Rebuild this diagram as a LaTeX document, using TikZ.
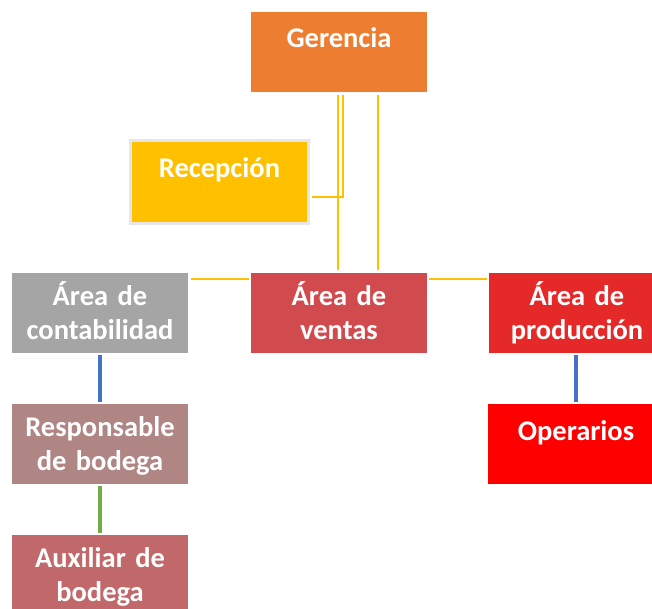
\documentclass[tikz,border=0pt]{standalone}
\usepackage{fontspec}
\setmainfont{Carlito}
\usetikzlibrary{calc}
\definecolor{gerorange}{HTML}{ED7D31}
\definecolor{recyellow}{HTML}{FFC000}
\definecolor{recborder}{HTML}{E6E6E6}
\definecolor{contgray}{HTML}{A5A5A5}
\definecolor{ventred}{HTML}{D14A4E}
\definecolor{prodred}{HTML}{E52828}
\definecolor{respbrown}{HTML}{B08685}
\definecolor{auxrose}{HTML}{C0686A}
\definecolor{operred}{HTML}{FF0000}
\definecolor{linkblue}{HTML}{4472C4}
\definecolor{linkgreen}{HTML}{70AD47}
\tikzset{
  every picture/.style={
    x=1pt, y=-1pt
  },
  box/.style={
    rectangle, fill=#1, text=white,
    font=\bfseries\fontsize{28.5}{34}\selectfont,
    minimum width=176pt, minimum height=80pt,
    text width=176pt, align=center, inner sep=0pt,
    text height=32pt, text depth=48pt
  },
  single/.style={
    text height=36pt, text depth=44pt
  },
  yline/.style={
    draw=recyellow, line width=2.3pt
  },
  vline/.style={
    draw=#1, line width=3.5pt,
    shorten <=2pt, shorten >=2pt
  }
}

\begin{document}
\begin{tikzpicture}
  \useasboundingbox (0,0) rectangle (652,609);
  \clip (0,0) rectangle (652,609);
  % boxes
  \node [box=gerorange, single] (ger) at (339,52) {Gerencia};
  \node [box=recyellow, single, draw=recborder, line width=3pt,
         minimum width=178pt, minimum height=83pt,
         text width=175pt] (rec) at (219.5,182) {Recepción};
  \node [box=contgray] (cont) at (100,313) {Área de\\contabilidad};
  \node [box=ventred] (vent) at (339,313) {Área de\\ventas};
  \node [box=prodred] (prod) at (577,313) {Área de\\producción};
  \node [box=respbrown] (resp) at (100,444) {Responsable\\de bodega};
  \node [box=auxrose] (aux) at (100,575) {Auxiliar de\\bodega};
  \node [box=operred, single] (oper) at (576,444) {Operarios};
  % yellow links
  \draw [yline, shorten <=3pt, shorten >=3pt]
    ([xshift=-1pt]ger.south) -- ([xshift=-1pt]vent.north);
  \draw [yline, shorten <=3pt, shorten >=3pt]
    ([xshift=39pt]ger.south) -- ([xshift=39pt]vent.north);
  \draw [yline, shorten <=3pt, shorten >=1.5pt]
    ([xshift=4pt]ger.south) |- ([yshift=-15pt]rec.east);
  \draw [yline, shorten <=3pt, shorten >=2pt]
    ([yshift=34pt]cont.east) -- ([yshift=34pt]vent.west);
  \draw [yline, shorten <=2pt, shorten >=2pt]
    ([yshift=34pt]vent.east) -- ([yshift=34pt]prod.west);
  % lower links
  \draw [vline=linkblue] (cont) -- (resp);
  \draw [vline=linkgreen] (resp) -- (aux);
  \draw [vline=linkblue] ([xshift=-1pt]prod.south) -- ([xshift=-1pt]prod.south |- oper.north);
\end{tikzpicture}
\end{document}
